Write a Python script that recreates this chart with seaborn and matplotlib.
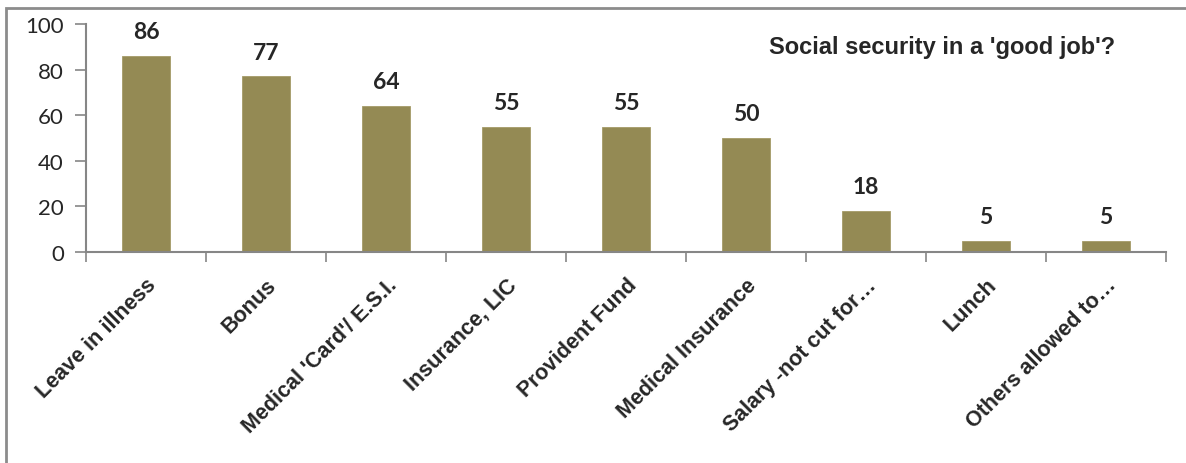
import matplotlib
matplotlib.use("Agg")
import matplotlib.pyplot as plt
from matplotlib.patches import Rectangle
from matplotlib.ticker import FixedLocator
import seaborn as sns
import pandas as pd

categories = [
    "Leave in illness",
    "Bonus",
    "Medical 'Card'/ E.S.I.",
    "Insurance, LIC",
    "Provident Fund",
    "Medical Insurance",
    "Salary -not cut for\u2026",
    "Lunch",
    "Others allowed to\u2026",
]
values = [86, 77, 64, 55, 55, 50, 18, 5, 5]
y_ticks = [0, 20, 40, 60, 80, 100]
chart_title = "Social security in a 'good job'?"

bar_color = "#948A54"
axis_color = "#868686"

sns.set_style("white")
plt.rcParams["font.family"] = ["Liberation Sans", "DejaVu Sans"]

df = pd.DataFrame({"item": categories, "pct": values})

fig = plt.figure(figsize=(11.86, 4.64), dpi=100)
ax = fig.add_axes([86 / 1186, 1 - 253 / 464, 1080 / 1186, 228 / 464])

sns.barplot(data=df, x="item", y="pct", color=bar_color, width=0.4,
            saturation=1, edgecolor="#A59B68", linewidth=0.6, ax=ax)

ax.set_xlim(-0.5, len(categories) - 0.5)
ax.set_ylim(0, 100)
ax.set_xlabel("")
ax.set_ylabel("")

# value labels above each bar
for cont in ax.containers:
    ax.bar_label(cont, labels=[f"{v:g}" for v in values], padding=10,
                 fontsize=16.5, fontweight="bold", family=["Lato", "DejaVu Sans"])

# y axis
ax.set_yticks(y_ticks)
ax.set_yticklabels([str(t) for t in y_ticks], fontsize=16, family=["Lato", "DejaVu Sans"])
ax.tick_params(axis="y", length=8, width=1.2, color=axis_color, pad=8, left=True)

# x axis: labels at category centres, tick marks at category boundaries
ax.set_xticks(range(len(categories)))
ax.set_xticklabels(categories, rotation=45, ha="right", rotation_mode="anchor",
                   fontsize=15.5, fontweight="bold")
ax.tick_params(axis="x", which="major", length=0, pad=16)
ax.xaxis.set_minor_locator(FixedLocator([i - 0.5 for i in range(len(categories) + 1)]))
ax.tick_params(axis="x", which="minor", length=7, width=1.2, color=axis_color, bottom=True)

for side in ("top", "right"):
    ax.spines[side].set_visible(False)
for side in ("left", "bottom"):
    ax.spines[side].set_color(axis_color)
    ax.spines[side].set_linewidth(1.5)

ax.text(0.793, 0.9, chart_title, transform=ax.transAxes, ha="center", va="center",
        fontsize=17, fontweight="bold")

# outer chart frame
fig.patches.append(Rectangle((6 / 1186, -0.1), 1.2, 1 - 9 / 464 + 0.1,
                             transform=fig.transFigure, fill=False,
                             edgecolor="#8C8C8C", linewidth=2))

fig.savefig("out.png", dpi=100)
